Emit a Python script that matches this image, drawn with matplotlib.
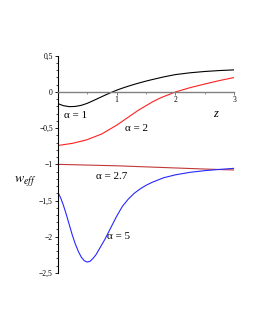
import matplotlib
matplotlib.use('Agg')
from matplotlib import pyplot as plt
from matplotlib.ticker import MultipleLocator, FixedLocator

plt.rcParams['font.family'] = ['Liberation Serif', 'DejaVu Serif']

# curves: w_eff(z) for four alphas
z_a1 = [0, 0.1, 0.2, 0.3, 0.4, 0.5, 0.6, 0.7, 0.8, 0.9, 1.0, 1.1, 1.2, 1.3, 1.4, 1.5, 1.6, 1.8,
        2.0, 2.25, 2.5, 2.75, 3.0]
w_a1 = [-0.16, -0.19, -0.203, -0.2, -0.185, -0.158, -0.122, -0.084, -0.046, -0.01, 0.024, 0.053,
        0.08, 0.105, 0.128, 0.15, 0.17, 0.208, 0.24, 0.265, 0.283, 0.296, 0.305]

z_a2 = [0, 0.25, 0.5, 0.75, 1.0, 1.125, 1.25, 1.375, 1.5, 1.625, 1.75, 2.0, 2.25, 2.5, 2.75, 3.0]
w_a2 = [-0.74, -0.71, -0.66, -0.58, -0.46, -0.39, -0.32, -0.25, -0.19, -0.13, -0.08, 0.0, 0.06,
        0.11, 0.158, 0.2]

z_a27 = [0, 0.5, 1.0, 1.5, 2.0, 2.5, 3.0]
w_a27 = [-1.0, -1.01, -1.02, -1.035, -1.05, -1.065, -1.078]

z_a5 = [0, 0.05, 0.1, 0.15, 0.2, 0.25, 0.3, 0.35, 0.4, 0.45, 0.5, 0.55, 0.6, 0.65, 0.7, 0.75,
        0.8, 0.85, 0.9, 0.95, 1.0, 1.05, 1.1, 1.2, 1.3, 1.4, 1.5, 1.6, 1.8, 2.0, 2.25, 2.5, 2.75,
        3.0]
w_a5 = [-1.38, -1.46, -1.57, -1.7, -1.84, -1.98, -2.1, -2.2, -2.28, -2.33, -2.35, -2.34, -2.3,
        -2.25, -2.18, -2.11, -2.04, -1.96, -1.88, -1.8, -1.72, -1.65, -1.58, -1.48, -1.4, -1.34,
        -1.29, -1.25, -1.185, -1.145, -1.11, -1.087, -1.07, -1.055]

y_ticks = [0.5, 0, -0.5, -1, -1.5, -2, -2.5]
y_tick_labels = ['0,5', '0', '\u22120,5', '\u22121', '\u22121,5', '\u22122', '\u22122,5']
x_ticks = [1, 2, 3]
x_tick_labels = ['1', '2', '3']

fig = plt.figure(figsize=(2.55, 3.3), dpi=100)
ax = fig.add_axes([0.226, 0.173, 0.693, 0.658])

ax.plot(z_a1, w_a1, color='black', lw=0.8)
ax.plot(z_a2, w_a2, color='#ff2020', lw=0.8)
ax.plot(z_a27, w_a27, color='#c03838', lw=0.8)
ax.plot(z_a5, w_a5, color='#2828ff', lw=0.8)

ax.set_xlim(0, 3)
ax.set_ylim(-2.5, 0.5)

for s in ['top', 'right']:
    ax.spines[s].set_visible(False)
ax.spines['bottom'].set_position(('data', 0))
ax.spines['bottom'].set_color('#808080')
ax.spines['bottom'].set_linewidth(1.0)
ax.spines['left'].set_linewidth(0.8)

ax.yaxis.set_major_locator(FixedLocator(y_ticks))
ax.set_yticklabels(y_tick_labels)
ax.yaxis.set_minor_locator(MultipleLocator(0.1))
ax.xaxis.set_major_locator(FixedLocator(x_ticks))
ax.set_xticklabels(x_tick_labels)
ax.xaxis.set_minor_locator(MultipleLocator(0.5))

ax.tick_params(axis='y', which='major', length=2.5, width=0.6, labelsize=5.5, pad=1)
ax.tick_params(axis='y', which='minor', length=1.5, width=0.5)
ax.tick_params(axis='x', which='major', length=2, width=0.6, labelsize=5.5, pad=1,
               color='#606060')
ax.tick_params(axis='x', which='minor', length=1.5, width=0.5, color='#606060')

ax.text(0.3, -0.33, 'α = 1', fontsize=8, ha='center', va='center')
ax.text(1.34, -0.5, 'α = 2', fontsize=8, ha='center', va='center')
ax.text(0.91, -1.17, 'α = 2.7', fontsize=8, ha='center', va='center')
ax.text(1.03, -2.0, 'α = 5', fontsize=8, ha='center', va='center')
ax.text(2.68, -0.3, 'z', fontsize=9, style='italic', ha='center', va='center')
ax.text(-0.55, -1.25, r'$w_{eff}$', fontsize=10, ha='center', va='center',
        math_fontfamily='stix')

fig.savefig('out.png', dpi=100)
